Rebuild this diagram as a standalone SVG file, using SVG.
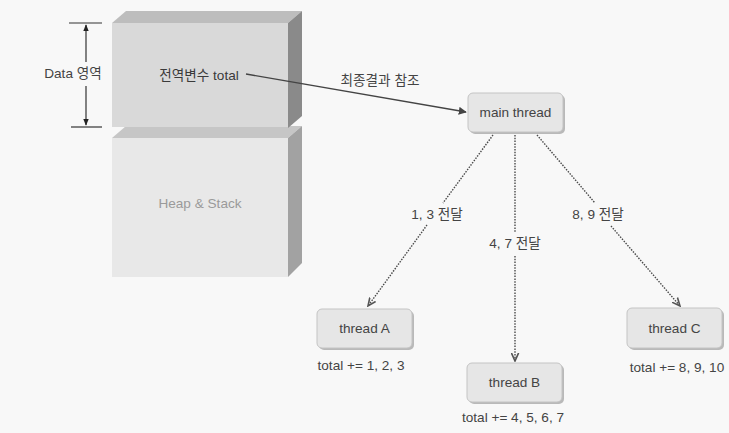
<svg xmlns="http://www.w3.org/2000/svg" width="729" height="433" viewBox="0 0 729 433">
<style>
text{font-family:"Liberation Sans","Noto Sans CJK KR",Arial,sans-serif;fill:#444;}
.lbl{font-size:13.6px;text-anchor:middle;}
.box{fill:#e6e6e6;stroke:#c4c4c4;stroke-width:1;}
.shadow{fill:#b9b9b9;}
.dot{stroke:#4a4a4a;stroke-width:1.4;stroke-dasharray:1.5,1.3;fill:none;}
</style>
<defs>
<marker id="ah" viewBox="0 0 10 10" refX="9" refY="5" markerWidth="8" markerHeight="8" markerUnits="userSpaceOnUse" orient="auto">
<path d="M0,0 L10,5 L0,10 z" fill="#444"/>
</marker>
<marker id="ah2" viewBox="0 0 10 10" refX="9" refY="5" markerWidth="9" markerHeight="9" markerUnits="userSpaceOnUse" orient="auto">
<path d="M0,1 L9,5 L0,9" fill="none" stroke="#555" stroke-width="1.8"/>
</marker>
<marker id="dim" viewBox="0 0 10 10" refX="9" refY="5" markerWidth="7" markerHeight="7" markerUnits="userSpaceOnUse" orient="auto">
<path d="M0,1 L10,5 L0,9 z" fill="#222"/>
</marker>
</defs>
<rect width="729" height="433" fill="#f8f8f8"/>

<g id="heap">
<polygon points="112,138 126,126 302,126 288,138" fill="#c6c6c6"/>
<polygon points="288,138 302,126 302,263 288,277" fill="#a2a2a2"/>
<rect x="112" y="138" width="176" height="139" fill="#e8e8e8"/>
<text x="200" y="208" class="lbl" style="fill:#9a9a9a">Heap &amp; Stack</text>
</g>

<g id="data">
<polygon points="112,23 126,11 302,11 288,23" fill="#bdbdbd"/>
<polygon points="288,23 302,11 302,116 288,128" fill="#8a8a8a"/>
<rect x="112" y="23" width="176" height="104" fill="#d9d9d9"/>
<text x="199" y="80" class="lbl" style="fill:#3a3a3a">전역변수 total</text>
</g>

<g id="dimension">
<line x1="69" y1="23" x2="102" y2="23" stroke="#333" stroke-width="1.2"/>
<line x1="71" y1="127" x2="102" y2="127" stroke="#333" stroke-width="1.2"/>
<line x1="86" y1="62" x2="86" y2="25" stroke="#333" stroke-width="1.2" marker-end="url(#dim)"/>
<line x1="86" y1="86" x2="86" y2="125" stroke="#333" stroke-width="1.2" marker-end="url(#dim)"/>
<text x="73" y="78" class="lbl">Data 영역</text>
</g>

<g id="main">
<rect x="470" y="95" width="95" height="39" rx="5" class="shadow"/>
<rect x="468" y="93" width="95" height="39" rx="5" class="box"/>
<text x="515.5" y="117" class="lbl">main thread</text>
</g>

<g id="threadA">
<rect x="319" y="311" width="95" height="39" rx="5" class="shadow"/>
<rect x="317" y="309" width="95" height="39" rx="5" class="box"/>
<text x="364.5" y="333" class="lbl">thread A</text>
<text x="361" y="370" class="lbl">total += 1, 2, 3</text>
</g>

<g id="threadB">
<rect x="469" y="365" width="95" height="39" rx="5" class="shadow"/>
<rect x="467" y="363" width="95" height="39" rx="5" class="box"/>
<text x="514.5" y="387" class="lbl">thread B</text>
<text x="513" y="422" class="lbl">total += 4, 5, 6, 7</text>
</g>

<g id="threadC">
<rect x="629" y="310" width="95" height="40" rx="5" class="shadow"/>
<rect x="627" y="308" width="95" height="40" rx="5" class="box"/>
<text x="674.5" y="333" class="lbl">thread C</text>
<text x="677" y="372" class="lbl">total += 8, 9, 10</text>
</g>

<g id="connectors">
<line x1="246" y1="74" x2="466" y2="112" stroke="#444" stroke-width="1.4" marker-end="url(#ah)"/>
<text x="380" y="85" class="lbl">최종결과 참조</text>

<path d="M493,135 L443,203" class="dot"/>
<path d="M427,225 L368,306" class="dot" marker-end="url(#ah2)"/>
<text x="437" y="219" class="lbl">1, 3 전달</text>

<path d="M515,135 L515,233" class="dot"/>
<path d="M515,256 L515,361" class="dot" marker-end="url(#ah2)"/>
<text x="515" y="248" class="lbl">4, 7 전달</text>

<path d="M537,135 L595,203" class="dot"/>
<path d="M611,226 L680,306" class="dot" marker-end="url(#ah2)"/>
<text x="598" y="219" class="lbl">8, 9 전달</text>
</g>
</svg>
